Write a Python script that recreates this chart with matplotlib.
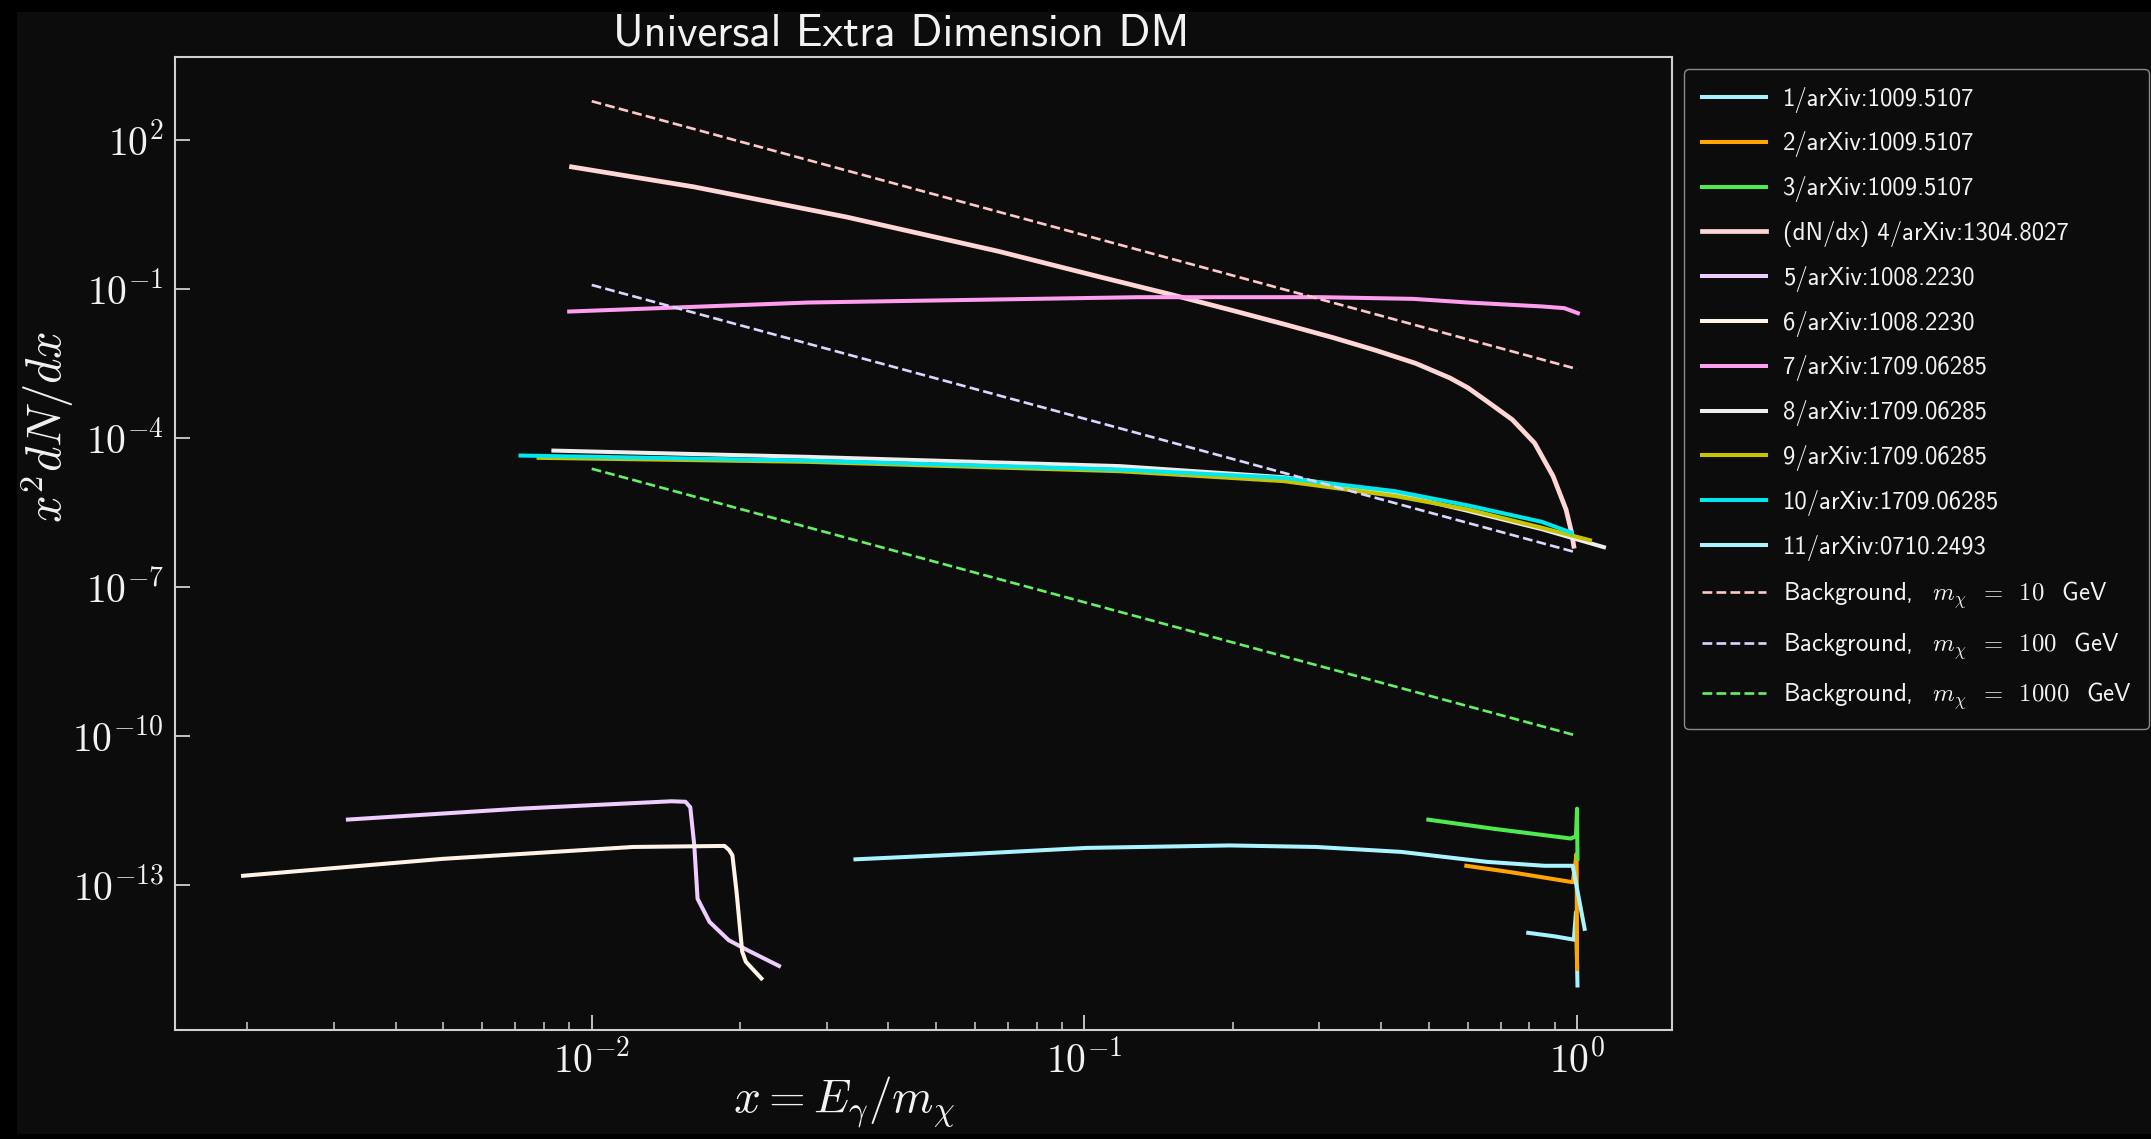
import matplotlib
matplotlib.use("Agg")
import matplotlib.pyplot as plt
from matplotlib.patches import Rectangle
from matplotlib.ticker import FuncFormatter
import numpy as np

# ---------------- data ----------------
x1 = [0.796, 0.90, 0.985, 0.995, 1.002]
y1 = [1.07e-14, 9.1e-15, 7.8e-15, 2.8e-14, 9.3e-16]

x2 = [0.596, 0.735, 0.98, 0.998, 1.0]
y2 = [2.4e-13, 1.78e-13, 1.12e-13, 4.2e-13, 2.0e-15]

x3 = [0.499, 0.68, 0.972, 0.995, 1.0, 1.002]
y3 = [2.04e-12, 1.33e-12, 8.5e-13, 9.5e-13, 3.4e-12, 3.3e-13]

x4 = [0.0091, 0.0161, 0.0329, 0.067, 0.107, 0.151, 0.20, 0.254, 0.32, 0.391,
      0.47, 0.552, 0.601, 0.656, 0.739, 0.82, 0.894, 0.95, 0.975, 0.985]
y4 = [29.0, 11.5, 2.83, 0.575, 0.178, 0.0764, 0.037, 0.0197, 0.0105, 5.8e-3,
      3.2e-3, 1.62e-3, 1.02e-3, 5.5e-4, 2.34e-4, 7.9e-5, 1.7e-5, 3.6e-6,
      1.23e-6, 6.6e-7]

x5 = [0.0032, 0.00711, 0.01452, 0.0155, 0.01585, 0.01615, 0.0164, 0.01734,
      0.01897, 0.0207, 0.0240]
y5 = [2.05e-12, 3.39e-12, 4.79e-12, 4.68e-12, 3.63e-12, 6.2e-13, 5.2e-14,
      1.78e-14, 7.6e-15, 4.8e-15, 2.3e-15]

x6 = [0.00196, 0.00498, 0.01214, 0.0186, 0.0190, 0.0193, 0.01968, 0.0202,
      0.02055, 0.0221]
y6 = [1.51e-13, 3.31e-13, 5.75e-13, 6.03e-13, 5.0e-13, 3.9e-13, 7.1e-14,
      4.5e-15, 2.8e-15, 1.29e-15]

x7 = [0.0090, 0.0275, 0.129, 0.302, 0.465, 0.601, 0.849, 0.942, 1.004]
y7 = [0.0353, 0.0536, 0.0687, 0.0687, 0.0635, 0.0536, 0.0447, 0.0413, 0.0327]

x8 = [0.00836, 0.0273, 0.118, 0.254, 0.426, 0.601, 0.849, 1.134]
y8 = [5.57e-5, 4.17e-5, 2.71e-5, 1.62e-5, 7.6e-6, 3.39e-6, 1.45e-6, 6.3e-7]

x9 = [0.0078, 0.0273, 0.118, 0.254, 0.426, 0.601, 0.849, 1.062]
y9 = [3.98e-5, 3.31e-5, 2.14e-5, 1.35e-5, 6.8e-6, 3.63e-6, 1.55e-6, 8.7e-7]

x10 = [0.00717, 0.0273, 0.118, 0.254, 0.426, 0.601, 0.849, 0.975]
y10 = [4.43e-5, 3.51e-5, 2.31e-5, 1.57e-5, 8.5e-6, 4.37e-6, 2.04e-6, 1.23e-6]

x11 = [0.0343, 0.0592, 0.101, 0.197, 0.295, 0.44, 0.656, 0.859, 0.98, 1.036]
y11 = [3.24e-13, 4.17e-13, 5.5e-13, 6.17e-13, 5.75e-13, 4.57e-13, 2.88e-13,
       2.4e-13, 2.4e-13, 1.29e-14]

x_bg = [0.01, 0.1, 1.0]
y_bg10 = [6.1e2, 1.22, 2.45e-3]
y_bg100 = [1.21e-1, 2.45e-4, 4.9e-7]
y_bg1000 = [2.4e-5, 4.9e-8, 1.0e-10]

labels = ["1/arXiv:1009.5107", "2/arXiv:1009.5107", "3/arXiv:1009.5107",
          "(dN/dx) 4/arXiv:1304.8027", "5/arXiv:1008.2230", "6/arXiv:1008.2230",
          "7/arXiv:1709.06285", "8/arXiv:1709.06285", "9/arXiv:1709.06285",
          "10/arXiv:1709.06285", "11/arXiv:0710.2493"]
bg_labels = [r"Background, $\;\;m_\chi\;\;=\;\;10\;\,$ GeV",
             r"Background, $\;\;m_\chi\;\;=\;\;100\;\,$ GeV",
             r"Background, $\;\;m_\chi\;\;=\;\;1000\;\,$ GeV"]
y_ticks = [1e-13, 1e-10, 1e-7, 1e-4, 1e-1, 1e2]

# ---------------- style ----------------
plt.rcParams['mathtext.fontset'] = 'cm'
plt.rcParams['font.family'] = ['cmss10', 'DejaVu Sans']
plt.rcParams['axes.unicode_minus'] = False

colors = ['#a6f2ff', '#ffa500', '#4eea4e', '#ffd6d6', '#f0cdff', '#fff3e8',
          '#ff9ef0', '#eeeeee', '#c8c400', '#00e8ee', '#aaf4ff']
bg_colors = ['#ffc8c8', '#d8d8ff', '#66f066']

BG = '#0c0c0c'
TXT = '#f2f2f2'
W, H = 2151, 1139
fig = plt.figure(figsize=(W / 100, H / 100), dpi=100, facecolor='black')
fig.patches.append(Rectangle((17 / W, 5 / H), 1 - 17 / W, (H - 17) / H,
                             transform=fig.transFigure, facecolor=BG,
                             edgecolor='none', zorder=-10))

ax = fig.add_axes([175 / W, 1 - 1029.7 / H, (1672 - 175) / W, (1029.7 - 57) / H])
ax.set_facecolor(BG)

series = [(x1, y1), (x2, y2), (x3, y3), (x4, y4), (x5, y5), (x6, y6),
          (x7, y7), (x8, y8), (x9, y9), (x10, y10), (x11, y11)]
for i, (xs, ys) in enumerate(series):
    lw = 3.4 if i == 3 else 2.9
    ax.plot(xs, ys, color=colors[i], lw=lw, label=labels[i],
            solid_joinstyle='round')

for ys, c, lab in zip([y_bg10, y_bg100, y_bg1000], bg_colors, bg_labels):
    ax.plot(x_bg, ys, '--', color=c, lw=1.9, label=lab)

ax.set_xscale('log')
ax.set_yscale('log')
ax.set_yticks(y_ticks)


def pow_fmt(v, pos):
    if v <= 0:
        return ''
    e = int(np.round(np.log10(v)))
    if not np.isclose(v, 10.0 ** e):
        return ''
    return r'$10^{%d}$' % e


ax.xaxis.set_major_formatter(FuncFormatter(pow_fmt))
ax.yaxis.set_major_formatter(FuncFormatter(pow_fmt))

spine_c = '#d0d0d0'
for s in ax.spines.values():
    s.set_color(spine_c)
    s.set_linewidth(1.5)
ax.tick_params(which='both', direction='in', colors=spine_c,
               labelcolor=TXT, top=False, right=False)
ax.tick_params(which='major', length=11, width=1.3, labelsize=28.5, pad=8)
ax.tick_params(which='minor', length=6, width=1.1)

ax.set_xlabel(r"$x = E_\gamma/m_\chi$", fontsize=34, color=TXT)
ax.xaxis.set_label_coords(0.447, -0.046)
ax.set_ylabel(r"$x^2dN/dx$", fontsize=35, color=TXT)
ax.yaxis.set_label_coords(-0.066, 0.62)
ax.set_title("Universal Extra Dimension DM", fontsize=32, color=TXT, pad=8,
             x=0.485)

leg = ax.legend(loc='upper left', bbox_to_anchor=(1.0, 1.0), fontsize=17.8,
                frameon=True, facecolor=BG, edgecolor='#8a8a8a',
                labelcolor=TXT, handlelength=2.6, labelspacing=0.76,
                handletextpad=0.7, borderpad=0.7)
leg.get_frame().set_alpha(1.0)

fig.savefig('out.png', dpi=100, facecolor='black')
